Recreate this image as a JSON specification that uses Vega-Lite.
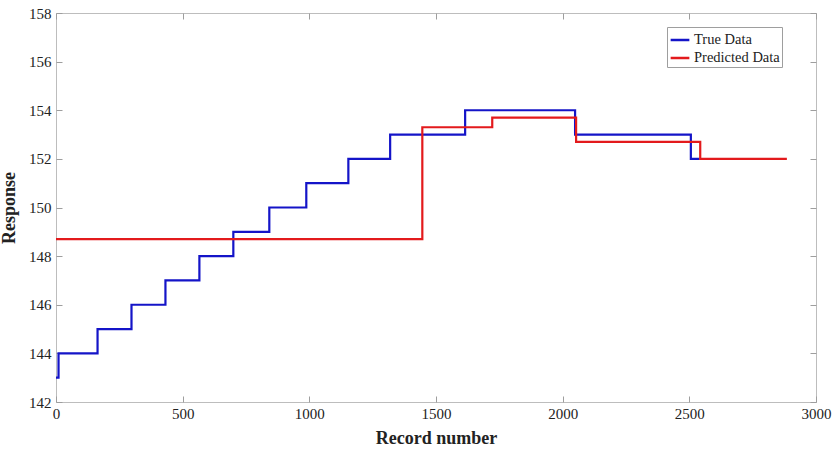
{
  "$schema": "https://vega.github.io/schema/vega-lite/v6.json",
  "width": 760,
  "height": 389,
  "autosize": {"type": "none"},
  "padding": {"left": 56, "top": 13, "right": 20, "bottom": 47},
  "background": "white",
  "config": {
    "view": {"stroke": "#bdbdbd", "strokeWidth": 1},
    "font": "Liberation Serif"
  },
  "data": {
    "values": [
      {"series": "True Data", "record": 0, "response": 143},
      {"series": "True Data", "record": 10, "response": 144},
      {"series": "True Data", "record": 164, "response": 145},
      {"series": "True Data", "record": 298, "response": 146},
      {"series": "True Data", "record": 432, "response": 147},
      {"series": "True Data", "record": 566, "response": 148},
      {"series": "True Data", "record": 700, "response": 149},
      {"series": "True Data", "record": 842, "response": 150},
      {"series": "True Data", "record": 988, "response": 151},
      {"series": "True Data", "record": 1154, "response": 152},
      {"series": "True Data", "record": 1319, "response": 153},
      {"series": "True Data", "record": 1615, "response": 154},
      {"series": "True Data", "record": 2049, "response": 153},
      {"series": "True Data", "record": 2506, "response": 152},
      {"series": "True Data", "record": 2540, "response": 152},
      {"series": "Predicted Data", "record": 0, "response": 148.7},
      {"series": "Predicted Data", "record": 1446, "response": 153.3},
      {"series": "Predicted Data", "record": 1722, "response": 153.7},
      {"series": "Predicted Data", "record": 2053, "response": 152.7},
      {"series": "Predicted Data", "record": 2543, "response": 152},
      {"series": "Predicted Data", "record": 2885, "response": 152}
    ]
  },
  "layer": [
    {
      "mark": {"type": "line", "interpolate": "step-after", "strokeWidth": 2.2},
      "encoding": {
        "x": {
          "field": "record", "type": "quantitative",
          "scale": {"domain": [0, 3000], "nice": false},
          "axis": {
            "title": "Record number", "values": [0, 500, 1000, 1500, 2000, 2500, 3000], "format": "d",
            "grid": false, "domain": false, "tickSize": -6, "tickColor": "#9e9e9e",
            "labelFont": "Liberation Serif", "labelFontSize": 15, "labelColor": "#222",
            "labelPadding": 10, "labelFlush": false,
            "titleFont": "Liberation Serif", "titleFontSize": 18, "titleFontWeight": "bold",
            "titleColor": "#222", "titlePadding": 8
          }
        },
        "y": {
          "field": "response", "type": "quantitative",
          "scale": {"domain": [142, 158], "nice": false, "zero": false},
          "axis": {
            "title": "Response", "values": [142, 144, 146, 148, 150, 152, 154, 156, 158],
            "grid": false, "domain": false, "tickSize": -6, "tickColor": "#9e9e9e",
            "labelFont": "Liberation Serif", "labelFontSize": 15, "labelColor": "#222",
            "labelPadding": 11, "labelFlush": false,
            "titleFont": "Liberation Serif", "titleFontSize": 18, "titleFontWeight": "bold",
            "titleColor": "#222", "titlePadding": 10
          }
        },
        "color": {
          "field": "series", "type": "nominal",
          "scale": {"domain": ["True Data", "Predicted Data"], "range": ["#1414c8", "#e31a1c"]},
          "legend": {
            "title": null, "orient": "none", "legendX": 611, "legendY": 14,
            "symbolType": "stroke", "symbolStrokeWidth": 2.5, "symbolSize": 350,
            "symbolOffset": 0, "labelOffset": 3,
            "labelFont": "Liberation Serif", "labelFontSize": 14.5, "labelColor": "#222",
            "fillColor": "white", "strokeColor": "#9e9e9e", "padding": 2,
            "rowPadding": 0, "symbolLimit": 0
          }
        },
        "detail": {"field": "series"}
      }
    },
    {
      "mark": {"type": "line", "opacity": 0},
      "encoding": {
        "x": {
          "field": "record", "type": "quantitative",
          "scale": {"domain": [0, 3000], "nice": false},
          "axis": {"orient": "top", "title": null, "labels": false, "values": [0, 500, 1000, 1500, 2000, 2500, 3000],
                   "grid": false, "domain": false, "tickSize": -6, "tickColor": "#9e9e9e"}
        },
        "y": {
          "field": "response", "type": "quantitative",
          "scale": {"domain": [142, 158], "nice": false, "zero": false},
          "axis": {"orient": "right", "title": null, "labels": false, "values": [142, 144, 146, 148, 150, 152, 154, 156, 158],
                   "grid": false, "domain": false, "tickSize": -6, "tickColor": "#9e9e9e"}
        },
        "detail": {"field": "series"}
      }
    }
  ],
  "resolve": {"axis": {"x": "independent", "y": "independent"}}
}
